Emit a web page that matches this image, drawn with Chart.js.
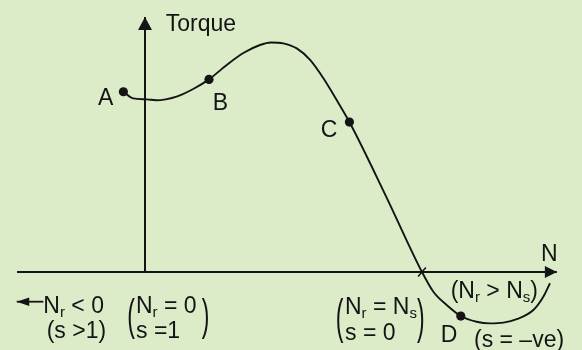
<!DOCTYPE html>
<html><head><meta charset="utf-8">
<style>html,body{margin:0;padding:0;background:#dcecc8;}canvas{display:block;}</style>
<script src="https://cdn.jsdelivr.net/npm/chart.js@4/dist/chart.umd.min.js"></script>
</head><body>
<canvas id="c" width="582" height="350"></canvas>
<script>
// Normalised speed (N / Ns) and torque (T / Tmax)
const speed  = [-0.078,-0.043,0.006,0.040,0.114,0.174,0.231,0.295,0.355,0.415,0.455,0.499,0.548,0.596,0.644,0.692,0.738,0.871,1.000,1.041,1.089,1.140,1.197,1.245,1.294,1.342,1.402,1.438,1.462];
const torque = [0.786,0.757,0.753,0.749,0.765,0.798,0.840,0.903,0.955,0.990,1.001,0.997,0.975,0.925,0.845,0.750,0.654,0.328,0.000,-0.086,-0.144,-0.192,-0.217,-0.224,-0.221,-0.206,-0.166,-0.108,-0.049];
const pointNames = ['A','B','C','D'];
const pointIndex = [0, 6, 16, 21];
const syncIndex = 18;            // N = Ns, T = 0
const axisTitles = ['Torque','N'];
const notes = ['N_r < 0','(s >1)','N_r = 0','s =1','N_r = N_s','s = 0','(N_r > N_s)','(s = \u2013ve)'];

// axis extents
const xAxisSpan = [-0.462, 1.487];
const yAxisSpan = [0, 1.112];
const leftArrow = {from:-0.367, to:-0.463, at:-0.1295};

const INK = '#141414';
const FONT = '23px "Liberation Sans", Arial, sans-serif';
const SUBFONT = '15px "Liberation Sans", Arial, sans-serif';

const radii = speed.map((_, i) => pointIndex.includes(i) ? 4.6 : 0);

function drawRich(ctx, str, x, y) {
  const segs = [];
  for (let i = 0; i < str.length; i++) {
    let ch = str[i], sub = false;
    if (ch === '_') { sub = true; ch = str[++i]; }
    const last = segs[segs.length - 1];
    if (last && last.sub === sub && !sub) last.t += ch; else segs.push({t: ch, sub});
  }
  let cx = x;
  for (const s of segs) {
    ctx.font = s.sub ? SUBFONT : FONT;
    ctx.fillText(s.t, cx, s.sub ? y + 4 : y);
    cx += ctx.measureText(s.t).width;
  }
}
function bigParen(ctx, ch, xInk, top, bottom) {
  ctx.font = FONT;
  const m = ctx.measureText(ch);
  const h = m.actualBoundingBoxAscent + m.actualBoundingBoxDescent;
  const s = (bottom - top) / h;
  ctx.save();
  ctx.translate(xInk + m.actualBoundingBoxLeft, top);
  ctx.scale(1, s);
  ctx.fillText(ch, 0, m.actualBoundingBoxAscent);
  ctx.restore();
}

const bgPlugin = {
  id: 'bg',
  beforeDraw(chart) {
    const c = chart.ctx; c.save(); c.fillStyle = '#dcecc8';
    c.fillRect(0, 0, chart.width, chart.height); c.restore();
  }
};

const arrowPlugin = {
  id: 'arrows',
  afterDatasetsDraw(chart) {
    const ctx = chart.ctx;
    chart.data.datasets.forEach((ds, i) => {
      if (!ds.arrow) return;
      const pts = chart.getDatasetMeta(i).data;
      const a = pts[pts.length - 2], b = pts[pts.length - 1];
      const ang = Math.atan2(b.y - a.y, b.x - a.x);
      const L = ds.arrow.len, W = ds.arrow.wid;
      ctx.save();
      ctx.translate(b.x, b.y); ctx.rotate(ang);
      ctx.beginPath(); ctx.moveTo(0, 0); ctx.lineTo(-L, -W / 2); ctx.lineTo(-L, W / 2); ctx.closePath();
      ctx.fillStyle = INK; ctx.fill();
      ctx.restore();
    });
  }
};

const textPlugin = {
  id: 'texts',
  afterDatasetsDraw(chart, args, opts) {
    const ctx = chart.ctx, xs = chart.scales.x, ys = chart.scales.y;
    ctx.save();
    ctx.fillStyle = INK; ctx.textAlign = 'left'; ctx.textBaseline = 'alphabetic';
    for (const it of opts.items) {
      drawRich(ctx, it.text, xs.getPixelForValue(it.x), ys.getPixelForValue(it.y));
    }
    for (const p of opts.parens) {
      bigParen(ctx, p.ch, xs.getPixelForValue(p.x), ys.getPixelForValue(p.top), ys.getPixelForValue(p.bottom));
    }
    ctx.restore();
  }
};

new Chart(document.getElementById('c'), {
  type: 'scatter',
  data: {
    datasets: [
      { label: 'x axis', data: xAxisSpan.map(v => ({x: v, y: 0})), showLine: true,
        borderColor: INK, borderWidth: 2, pointRadius: 0, arrow: {len: 12, wid: 12} },
      { label: 'y axis', data: yAxisSpan.map(v => ({x: 0, y: v})), showLine: true,
        borderColor: INK, borderWidth: 2, pointRadius: 0, arrow: {len: 13, wid: 14} },
      { label: 'negative speed', data: [{x: leftArrow.from, y: leftArrow.at}, {x: leftArrow.to, y: leftArrow.at}],
        showLine: true, borderColor: INK, borderWidth: 1.8, pointRadius: 0, arrow: {len: 12.5, wid: 8.5} },
      { label: 'torque', data: speed.map((s, i) => ({x: s, y: torque[i]})), showLine: true,
        borderColor: INK, borderWidth: 1.9, cubicInterpolationMode: 'monotone', pointRadius: radii,
        pointBackgroundColor: INK, pointBorderWidth: 0 },
      { label: 'sync', data: [{x: speed[syncIndex], y: torque[syncIndex]}], pointStyle: 'line',
        rotation: -50, pointRadius: 6, borderColor: INK, pointBorderWidth: 1.5 }
    ]
  },
  options: {
    responsive: false, animation: false, events: [],
    layout: {padding: 0, autoPadding: false},
    scales: {
      x: {type: 'linear', display: false, min: -145/277, max: 437/277},
      y: {type: 'linear', display: false, min: -78/229.3, max: 272/229.3}
    },
    plugins: {
      legend: {display: false}, tooltip: {enabled: false},
      texts: {
        items: [
          {text: axisTitles[0], x: 0.0747, y: 1.0523},
          {text: axisTitles[1], x: 1.4296, y: 0.0480},
          {text: pointNames[0], x: -0.1697, y: 0.7283},
          {text: pointNames[1], x: 0.2444, y: 0.7065},
          {text: pointNames[2], x: 0.6343, y: 0.5874},
          {text: pointNames[3], x: 1.0675, y: -0.3040},
          {text: notes[0], x: -0.3671, y: -0.1801},
          {text: notes[1], x: -0.3549, y: -0.2900},
          {text: notes[2], x: -0.0325, y: -0.1801},
          {text: notes[3], x: -0.0325, y: -0.2900},
          {text: notes[4], x: 0.722, y: -0.1832},
          {text: notes[5], x: 0.722, y: -0.2966},
          {text: notes[6], x: 1.1036, y: -0.1121},
          {text: notes[7], x: 1.1877, y: -0.3258}
        ],
        parens: [
          {ch: '(', x: -0.0603, top: -0.1047, bottom: -0.2966},
          {ch: ')', x: 0.2047, top: -0.1047, bottom: -0.2966},
          {ch: '(', x: 0.692, top: -0.1003, bottom: -0.3109},
          {ch: ')', x: 0.982, top: -0.1003, bottom: -0.3109}
        ]
      }
    }
  },
  plugins: [bgPlugin, arrowPlugin, textPlugin]
});
</script>
</body></html>
